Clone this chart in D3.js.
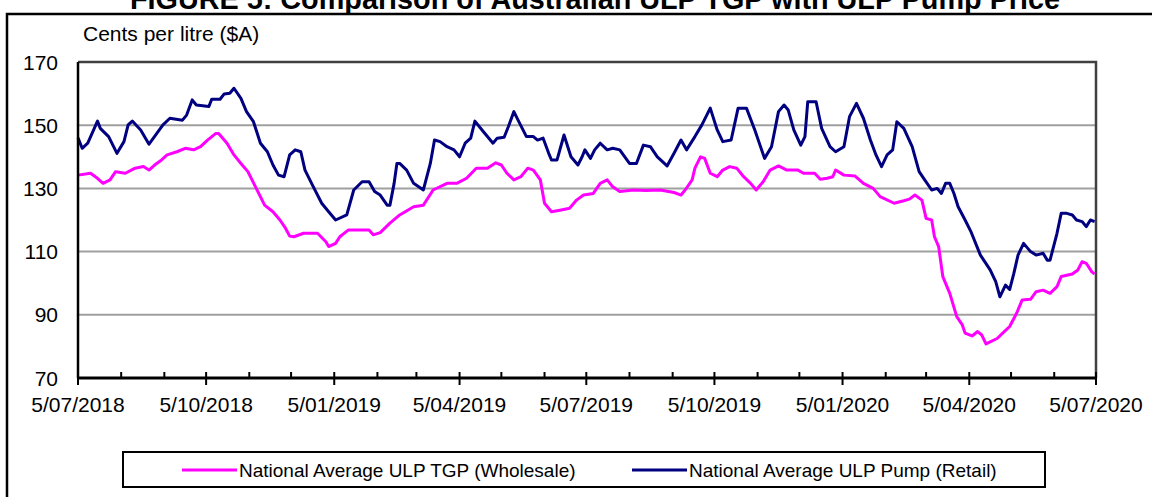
<!DOCTYPE html>
<html>
<head>
<meta charset="utf-8">
<script src="https://cdn.jsdelivr.net/npm/d3@7/dist/d3.min.js"></script>
<style>
  body { margin: 0; background: #fff; }
  svg { display: block; font-family: Arial, 'Liberation Sans', sans-serif; }
</style>
</head>
<body>
<div id="chart"></div>
<script>
// days counted from 5/07/2018
const startDate = new Date(2018, 6, 5);
const endDate = new Date(2020, 6, 5);

const retailDays = [0, 3, 7, 14, 16, 22, 28, 33, 36, 39, 45, 51, 54, 61, 66, 75, 78, 82, 85, 94,
  96, 102, 105, 109, 112, 117, 121, 126, 131, 136, 140, 144, 148, 152, 156, 160, 163, 169, 175, 180,
  185, 193, 198, 204, 209, 213, 217, 222, 224, 227, 229, 231, 236, 241, 248, 253, 256, 260, 265, 270,
  274, 278, 282, 285, 291, 298, 301, 306, 309, 313, 316, 322, 327, 330, 334, 338, 340, 344, 349, 354,
  359, 362, 364, 368, 371, 375, 380, 384, 389, 396, 401, 406, 411, 416, 423, 428, 433, 437, 443, 448,
  454, 459, 463, 469, 474, 480, 486, 493, 498, 503, 507, 510, 514, 519, 522, 524, 530, 534, 540, 544,
  550, 554, 559, 564, 569, 573, 577, 581, 585, 588, 593, 599, 604, 608, 613, 617, 620, 623, 626, 629,
  632, 637, 641, 648, 655, 659, 662, 666, 669, 672, 675, 679, 684, 688, 693, 696, 698, 703, 706, 710,
  714, 717, 721, 724, 727, 730];
const retailCents = [146, 142.7, 144.3, 151.3, 149, 146.4, 141.1, 144.8, 150.1, 151.3, 148.5, 144, 145.8, 150.1, 152.2, 151.6, 153.2, 158, 156.4, 155.9,
  158.2, 158.2, 159.9, 160.1, 161.7, 158.5, 154.3, 151.1, 144.3, 141.6, 137.4, 134.2, 133.7, 140.6, 142.2, 141.6, 135.8, 130.5, 125.3, 122.6,
  120, 121.6, 129.5, 132.1, 132.1, 129, 127.9, 124.7, 124.7, 131.6, 137.9, 137.9, 135.8, 131.6, 129.5, 137.9, 145.3, 144.8, 143.2, 142.2,
  140, 144.3, 145.9, 151.3, 148, 144.3, 145.9, 146.2, 149.5, 154.3, 151.6, 146.4, 146.4, 145.3, 145.9, 141.1, 139, 139, 146.9, 140,
  137.4, 140, 142.2, 139.5, 142.2, 144.3, 142.2, 142.7, 142.2, 137.9, 137.9, 143.7, 143.2, 140, 137.1, 141.1, 145.3, 142.2, 146.4, 150.1,
  155.4, 148.5, 144.8, 145.3, 155.4, 155.4, 148.5, 139.5, 143.2, 154.3, 156.4, 154.8, 148.5, 143.7, 146.4, 157.4, 157.4, 149, 143.2, 141.6,
  143.2, 152.7, 156.9, 152.2, 145.3, 140.6, 136.9, 140.6, 142.2, 151.1, 149, 143.2, 135.3, 132.7, 129.5, 130, 128.4, 131.6, 131.6, 128.4,
  124.2, 120, 116.5, 108.9, 104.2, 100.5, 95.7, 99.4, 98, 103.1, 108.9, 112.6, 110, 108.9, 109.5, 107.3, 107.3, 115.8, 122.1, 122.1,
  121.6, 120, 119.5, 117.9, 120, 119.5];

const wholesaleDays = [0, 9, 14, 18, 23, 27, 34, 41, 47, 51, 55, 60, 64, 71, 77, 83, 88, 93, 99, 101,
  107, 112, 117, 122, 128, 134, 140, 145, 149, 152, 155, 162, 172, 178, 180, 185, 188, 194, 203, 209,
  212, 217, 224, 231, 241, 248, 255, 265, 272, 279, 286, 294, 300, 304, 308, 313, 318, 323, 327, 332,
  335, 340, 346, 353, 358, 363, 370, 375, 380, 384, 389, 399, 408, 418, 428, 433, 436, 441, 443, 447,
  450, 454, 459, 463, 468, 473, 478, 483, 487, 492, 497, 503, 509, 517, 521, 529, 533, 538, 542, 544,
  550, 558, 564, 571, 576, 586, 593, 597, 601, 606, 609, 613, 615, 618, 621, 626, 631, 635, 637, 642,
  646, 649, 652, 660, 664, 669, 674, 678, 684, 688, 693, 698, 703, 706, 714, 718, 721, 724, 728, 730];
const wholesaleCents = [134.2, 134.8, 133.2, 131.6, 132.7, 135.3, 134.8, 136.4, 136.9, 135.8, 137.4, 139, 140.6, 141.6, 142.7, 142.2, 143.2, 145.3, 147.4, 147.4,
  144.3, 140.6, 137.9, 135.3, 130, 124.7, 122.6, 120, 117.4, 114.9, 114.7, 115.8, 115.8, 113.1, 111.6, 112.6, 114.7, 116.8, 116.8, 116.8,
  115.3, 116, 119, 121.6, 124.2, 124.7, 129.5, 131.6, 131.6, 133.2, 136.4, 136.4, 138.1, 137.4, 134.8, 132.7, 133.7, 136.4, 135.8, 132.7,
  125.3, 122.6, 123.1, 123.7, 126.3, 127.9, 128.4, 131.6, 132.7, 130.5, 129, 129.5, 129.3, 129.5, 128.7, 127.9, 129.5, 132.7, 136.4, 140,
  139.5, 134.8, 133.7, 135.8, 136.9, 136.4, 133.7, 131.6, 129.5, 132.1, 135.8, 137.1, 135.8, 135.8, 134.8, 134.8, 132.9, 133.2, 133.7, 135.8,
  134.2, 133.9, 131.6, 130, 127.4, 125.3, 126.1, 126.6, 127.9, 126.3, 120.5, 120, 114.7, 111.6, 102.1, 96.8, 89.4, 86.8, 84.2, 83.3,
  84.7, 83.6, 80.8, 82.5, 84.2, 86.3, 90.5, 94.7, 94.9, 97.3, 97.8, 96.8, 98.9, 102.1, 102.9, 104.2, 106.8, 106.3, 103.6, 102.9];

const yTicks = [70, 90, 110, 130, 150, 170];
const seriesNames = ['National Average ULP TGP (Wholesale)', 'National Average ULP Pump (Retail)'];
const seriesColors = ['#ff00ff', '#000080'];
const title = 'FIGURE 5: Comparison of Australian ULP TGP with ULP Pump Price';
const yTitle = 'Cents per litre ($A)';

const width = 1152;
const height = 497;
const plot = { left: 78, top: 62, right: 1096, bottom: 378 };

const svg = d3.select('#chart')
  .append('svg')
  .attr('width', width)
  .attr('height', height);

// outer frame, runs off the right and bottom edges
svg.append('rect')
  .attr('x', 7).attr('y', 14)
  .attr('width', 1300).attr('height', 600)
  .attr('fill', 'none')
  .attr('stroke', '#000')
  .attr('stroke-width', 2.5);

// title sits mostly above the top of the picture, as in the source
svg.append('text')
  .attr('x', 595).attr('y', 9)
  .attr('text-anchor', 'middle')
  .style('font-size', '28.8px')
  .style('font-weight', 'bold')
  .text(title);

svg.append('text')
  .attr('x', 83).attr('y', 41)
  .style('font-size', '21px')
  .text(yTitle);

const x = d3.scaleTime()
  .domain([startDate, endDate])
  .range([plot.left, plot.right]);

const y = d3.scaleLinear()
  .domain([70, 170])
  .range([plot.bottom, plot.top]);

const dayToDate = d => d3.timeDay.offset(startDate, d);

// grid
svg.append('g')
  .selectAll('line')
  .data(yTicks.filter(t => t > 70 && t < 170))
  .enter()
  .append('line')
  .attr('x1', plot.left).attr('x2', plot.right)
  .attr('y1', d => y(d)).attr('y2', d => y(d))
  .attr('stroke', '#a0a0a0')
  .attr('stroke-width', 2);

// plot border top + right
svg.append('path')
  .attr('d', `M${plot.left},${y(170)}H${plot.right}V${plot.bottom}`)
  .attr('fill', 'none')
  .attr('stroke', '#404040')
  .attr('stroke-width', 2.5);

// y labels
svg.append('g')
  .selectAll('text')
  .data(yTicks)
  .enter()
  .append('text')
  .attr('x', 58)
  .attr('y', d => y(d) + 7.5)
  .attr('text-anchor', 'end')
  .style('font-size', '21px')
  .text(d => d);

// series
const line = d3.line()
  .x(d => x(d.date))
  .y(d => y(d.value));

const series = [
  { name: seriesNames[0], color: seriesColors[0], values: wholesaleDays.map((d, i) => ({ date: dayToDate(d), value: wholesaleCents[i] })) },
  { name: seriesNames[1], color: seriesColors[1], values: retailDays.map((d, i) => ({ date: dayToDate(d), value: retailCents[i] })) },
];

svg.append('g')
  .selectAll('path')
  .data(series)
  .enter()
  .append('path')
  .attr('d', d => line(d.values))
  .attr('fill', 'none')
  .attr('stroke', d => d.color)
  .attr('stroke-width', 3)
  .attr('stroke-linejoin', 'round');

// axes
svg.append('line')
  .attr('x1', plot.left).attr('x2', plot.left)
  .attr('y1', plot.top).attr('y2', plot.bottom)
  .attr('stroke', '#000')
  .attr('stroke-width', 2.5);

svg.append('line')
  .attr('x1', plot.left).attr('x2', plot.right + 1)
  .attr('y1', plot.bottom).attr('y2', plot.bottom)
  .attr('stroke', '#000')
  .attr('stroke-width', 3);

const months = d3.range(25).map(i => d3.timeMonth.offset(startDate, i));
const fmt = d3.timeFormat('%-d/%m/%Y');

svg.append('g')
  .selectAll('line')
  .data(months)
  .enter()
  .append('line')
  .attr('x1', d => x(d)).attr('x2', d => x(d))
  .attr('y1', plot.bottom - 6)
  .attr('y2', (d, i) => i % 3 === 0 ? plot.bottom + 7 : plot.bottom)
  .attr('stroke', '#000')
  .attr('stroke-width', 2);

svg.append('g')
  .selectAll('text')
  .data(months.filter((d, i) => i % 3 === 0))
  .enter()
  .append('text')
  .attr('x', d => x(d))
  .attr('y', 412)
  .attr('text-anchor', 'middle')
  .style('font-size', '21px')
  .text(d => fmt(d));

// legend
const legend = svg.append('g');
legend.append('rect')
  .attr('x', 123).attr('y', 452)
  .attr('width', 922).attr('height', 35)
  .attr('fill', '#fff')
  .attr('stroke', '#000')
  .attr('stroke-width', 2);

const legendX = [182, 632];
const item = legend.selectAll('g.item')
  .data(series)
  .enter()
  .append('g')
  .attr('class', 'item')
  .attr('transform', (d, i) => `translate(${legendX[i]},470)`);

item.append('line')
  .attr('x1', 0).attr('x2', 55)
  .attr('stroke', d => d.color)
  .attr('stroke-width', 3);

item.append('text')
  .attr('x', 57).attr('y', 7)
  .style('font-size', '19px')
  .text(d => d.name);
</script>
</body>
</html>
